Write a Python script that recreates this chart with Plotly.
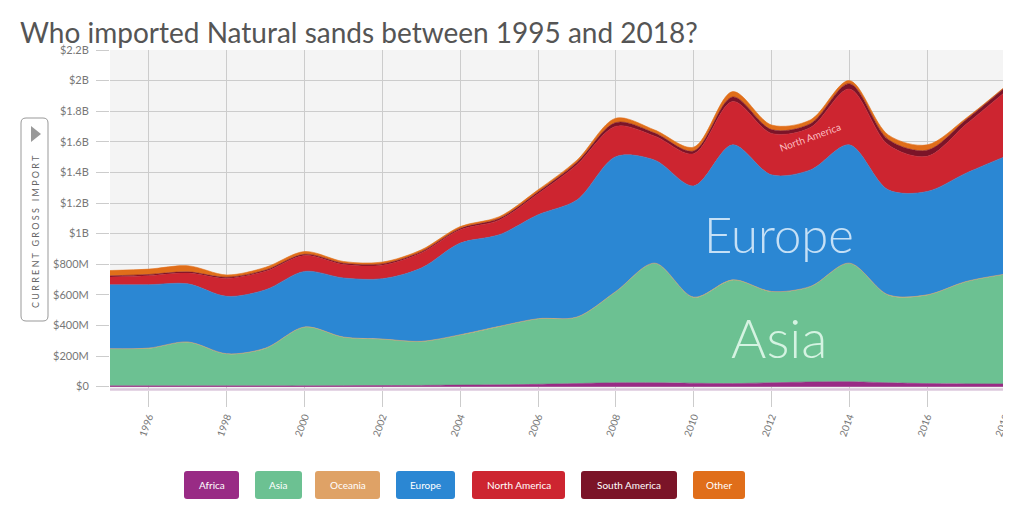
"""Stacked area: who imported Natural sands, 1995-2018."""

import plotly.graph_objects as go

YEARS = list(range(1995, 2019))

# values in US$ millions, bottom of the stack first
AFRICA = [5, 5, 5, 5, 5, 5, 6, 7, 8, 10, 12, 15, 20, 25, 25, 22, 20, 25, 30, 32, 25, 20, 18, 17]
ASIA = [241, 245, 285, 208, 245, 383, 316, 302, 286, 327, 380, 427, 433, 595, 780, 561,
        676, 595, 623, 773, 573, 578, 667, 716]
OCEANIA = [2] * 24
EUROPE = [418, 414, 380, 375, 381, 363, 386, 394, 479, 599, 598, 679, 765, 881, 673, 727,
          882, 762, 761, 773, 686, 675, 708, 768]
NORTH_AMERICA = [50, 59, 70, 117, 121, 104, 88, 89, 99, 88, 96, 137, 230, 198, 157, 210,
                 283, 271, 277, 365, 294, 230, 319, 422]
SOUTH_AMERICA = [8, 8, 8, 8, 8, 8, 8, 8, 8, 8, 10, 12, 15, 25, 20, 18, 30, 25, 25, 35, 35,
                 40, 30, 30]
OTHER = [35, 35, 40, 15, 18, 18, 12, 12, 12, 12, 12, 14, 15, 28, 20, 25, 35, 30, 25, 20, 30,
         35, 10, 5]

SERIES = [
    ("Africa", AFRICA, "#992b85"),
    ("Asia", ASIA, "#6cc192"),
    ("Oceania", OCEANIA, "#dfa266"),
    ("Europe", EUROPE, "#2b87d3"),
    ("North America", NORTH_AMERICA, "#cd2530"),
    ("South America", SOUTH_AMERICA, "#7b1428"),
    ("Other", OTHER, "#e06e1a"),
]

Y_TICKS = [0, 0.2e9, 0.4e9, 0.6e9, 0.8e9, 1.0e9, 1.2e9, 1.4e9, 1.6e9, 1.8e9, 2.0e9, 2.2e9]
Y_TICK_TEXT = ["$0", "$200M", "$400M", "$600M", "$800M", "$1B", "$1.2B", "$1.4B", "$1.6B",
               "$1.8B", "$2B", "$2.2B"]
X_TICKS = list(range(1996, 2019, 2))

# the page body has an 8px margin, so the figure is drawn 8px in from the corner
PAGE_W, PAGE_H, BODY = 1011, 507, 8
W, H = PAGE_W - BODY, PAGE_H - BODY
# plot box in page pixels
P_LEFT, P_RIGHT, P_TOP, P_BOTTOM = 110, 1005, 50, 390
PW, PH = P_RIGHT - P_LEFT, P_BOTTOM - P_TOP


def px(x):
    return (x - P_LEFT) / PW


def py(y):
    return (P_BOTTOM - y) / PH


def rounded_rect(x0, y0, x1, y1, r):
    # page-pixel box -> paper coords path with rounded corners
    rx, ry = r / PW, r / PH
    a, b, c, d = px(x0), py(y1), px(x1), py(y0)
    return (f"M{a + rx},{b} L{c - rx},{b} Q{c},{b} {c},{b + ry} L{c},{d - ry} "
            f"Q{c},{d} {c - rx},{d} L{a + rx},{d} Q{a},{d} {a},{d - ry} "
            f"L{a},{b + ry} Q{a},{b} {a + rx},{b} Z")


def paper_text(x, y, text, **kw):
    fig.add_annotation(xref="paper", yref="paper", x=px(x), y=py(y), text=text,
                       showarrow=False, xanchor="center", yanchor="middle", **kw)


fig = go.Figure()
for name, vals, color in SERIES:
    fig.add_trace(go.Scatter(
        x=YEARS,
        y=[v * 1e6 for v in vals],
        name=name,
        mode="lines",
        stackgroup="one",
        line={"width": 0.6, "color": color, "shape": "spline", "smoothing": 0.9},
        fillcolor=color,
        showlegend=False,
        hovertemplate=name + " %{x}: $%{y:.3s}<extra></extra>",
    ))

fig.add_annotation(x=2012.2, y=1.0e9, text="Europe", showarrow=False,
                   font={"family": "Lato", "size": 49, "weight": 300,
                         "color": "rgba(225,240,252,0.85)"})
fig.add_annotation(x=2012.2, y=0.32e9, text="Asia", showarrow=False,
                   font={"family": "Lato", "size": 54, "weight": 300,
                         "color": "rgba(232,252,240,0.85)"})
fig.add_annotation(x=2013.0, y=1.63e9, text="North America", showarrow=False,
                   textangle=-20,
                   font={"family": "Lato", "size": 10, "color": "rgba(255,200,205,0.95)"})

shapes = []
# y axis title box
shapes.append({"type": "path", "xref": "paper", "yref": "paper",
               "path": rounded_rect(21, 118, 48, 321, 5),
               "line": {"color": "#999999", "width": 1}, "fillcolor": "white"})
shapes.append({"type": "path", "xref": "paper", "yref": "paper",
               "path": f"M{px(31)},{py(126)} L{px(31)},{py(142)} L{px(41)},{py(134)} Z",
               "line": {"width": 0}, "fillcolor": "#999999"})
paper_text(35, 232, "C U R R E N T   G R O S S   I M P O R T", textangle=-90,
           font={"family": "Lato", "size": 9, "color": "#666666"})

# custom legend buttons
legend_boxes = [(184, 239), (255, 302), (315, 380), (396, 455), (472, 565), (581, 677),
                (693, 745)]
for (name, _, color), (x0, x1) in zip(SERIES, legend_boxes):
    shapes.append({"type": "path", "xref": "paper", "yref": "paper",
                   "path": rounded_rect(x0, 471, x1, 499, 3),
                   "line": {"width": 0}, "fillcolor": color})
    paper_text((x0 + x1) / 2, 485, name,
               font={"family": "Lato", "size": 10, "color": "white"})

# pale base line under the plot
shapes.append({"type": "line", "xref": "paper", "yref": "paper",
               "x0": 0, "x1": 1, "y0": py(389.5), "y1": py(389.5),
               "line": {"color": "#dcc8dc", "width": 2.5}})
# right edge gridline (2018)
shapes.append({"type": "line", "xref": "paper", "yref": "paper",
               "x0": 1, "x1": 1, "y0": 0, "y1": 1,
               "line": {"color": "#cccccc", "width": 1}, "layer": "below"})

fig.update_layout(
    width=W, height=H,
    margin={"l": P_LEFT - BODY, "r": PAGE_W - P_RIGHT, "t": P_TOP - BODY,
            "b": PAGE_H - P_BOTTOM, "autoexpand": False},
    paper_bgcolor="white",
    plot_bgcolor="#f4f4f4",
    font={"family": "Lato", "color": "#666666"},
    title={"text": "Who imported Natural sands between 1995 and 2018?",
           "x": (20 - BODY) / W, "xanchor": "left",
           "y": 1 - (33 - BODY) / H, "yanchor": "middle",
           "font": {"family": "Lato", "size": 28, "color": "#555555"}},
    shapes=shapes,
    xaxis={
        "range": [1995, 2018.001],
        "tickvals": X_TICKS,
        "ticktext": [str(y) for y in X_TICKS],
        "tickangle": -70,
        "ticklabeloverflow": "allow",
        "ticks": "outside", "ticklen": 16, "tickcolor": "#cccccc",
        "showgrid": True, "gridcolor": "#cccccc", "gridwidth": 1,
        "zeroline": False, "showline": False, "automargin": False,
        "tickfont": {"size": 10, "color": "#777777"},
    },
    yaxis={
        "range": [-0.022e9, 2.2e9],
        "tickvals": Y_TICKS,
        "ticktext": Y_TICK_TEXT,
        "ticks": "outside", "ticklen": 13, "tickcolor": "#cccccc",
        "ticklabelstandoff": 5,
        "showgrid": True, "gridcolor": "#cccccc", "gridwidth": 1,
        "zeroline": False, "showline": False, "automargin": False,
        "tickfont": {"size": 11, "color": "#777777"},
    },
)

fig.write_html("out.html")
